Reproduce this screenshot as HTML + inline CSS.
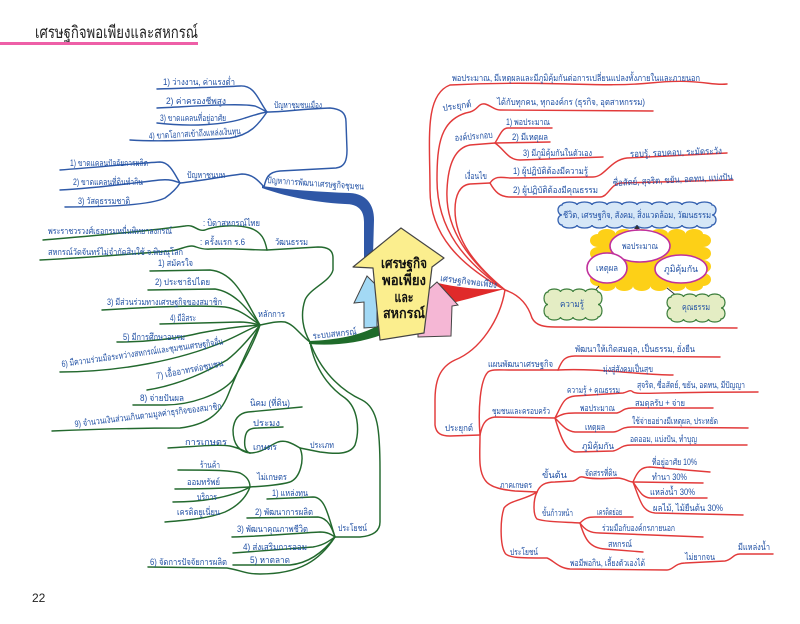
<!DOCTYPE html>
<html><head><meta charset="utf-8">
<style>
html,body{margin:0;padding:0;background:#fff;}
svg{display:block;}
.t{font-family:"Liberation Sans","DejaVu Sans",sans-serif;font-size:9px;fill:#1f4fa3;}
.b{fill:none;stroke:#2f5aa8;stroke-width:1.45;stroke-linecap:round;}
.g{fill:none;stroke:#23692e;stroke-width:1.45;stroke-linecap:round;}
.r{fill:none;stroke:#e23a3a;stroke-width:1.45;stroke-linecap:round;}
.c{font-family:"Liberation Sans","DejaVu Sans",sans-serif;font-size:14px;font-weight:bold;fill:#111;}
</style></head><body>
<svg width="800" height="624" viewBox="0 0 800 624" xmlns="http://www.w3.org/2000/svg">
<rect width="800" height="624" fill="#fff"/>
<!-- title -->
<text x="35" y="38" textLength="163" lengthAdjust="spacingAndGlyphs" style="font-family:'Liberation Sans','DejaVu Sans',sans-serif;font-size:17px;fill:#222">เศรษฐกิจพอเพียงและสหกรณ์</text>
<line x1="0" y1="43.5" x2="198" y2="43.5" stroke="#ee5fa7" stroke-width="3"/>
<text x="32" y="602" style="font-family:'Liberation Sans',sans-serif;font-size:12px;fill:#222">22</text>

<!-- ============ BLUE BRANCH ============ -->
<path d="M262,186 C290,190 320,192 350,193 C366,194 374,204 374,220 L373,256 L364,262 L364,222 C364,210 358,204 345,204 C310,202 285,196 262,188 Z" fill="#2f57a6"/>
<path class="b" d="M264,187 C266,178 268,172 280,171 L336,168 C345,167 347,160 347,150 L346,122 C346,112 340,109 330,108 C300,109 285,112 267,112"/>
<path class="b" d="M157,89 C190,88 220,87 240,86 C255,85 258,100 267,112"/>
<path class="b" d="M157,108 C200,106 240,103 255,106 C260,108 263,110 267,112"/>
<path class="b" d="M157,123 C190,127 225,125 245,118 C255,115 260,113 267,112"/>
<path class="b" d="M130,140 C160,142 200,140 230,138 C250,135 258,125 267,112"/>
<path class="b" d="M264,187 C258,180 252,174 242,174 C225,176 200,181 180,183"/>
<path class="b" d="M60,170 C100,167 140,163 160,162 C170,162 175,175 180,183"/>
<path class="b" d="M60,190 C100,188 140,182 160,180 C170,179 175,181 180,183"/>
<path class="b" d="M65,207 C110,207 150,205 165,198 C172,193 177,188 180,183"/>

<text class="t" x="163" y="85" textLength="72" lengthAdjust="spacingAndGlyphs">1) ว่างงาน, ค่าแรงต่ำ</text>
<text class="t" x="166" y="104" textLength="60" lengthAdjust="spacingAndGlyphs">2) ค่าครองชีพสูง</text>
<text class="t" x="160" y="121" textLength="66" lengthAdjust="spacingAndGlyphs">3) ขาดแคลนที่อยู่อาศัย</text>
<text class="t" x="149" y="139" textLength="92" lengthAdjust="spacingAndGlyphs" transform="rotate(-3 149 139)">4) ขาดโอกาสเข้าถึงแหล่งเงินทุน</text>
<text class="t" x="274" y="108" textLength="48" lengthAdjust="spacingAndGlyphs">ปัญหาชุมชนเมือง</text>
<text class="t" x="187" y="178" textLength="38" lengthAdjust="spacingAndGlyphs">ปัญหาชนบท</text>
<text class="t" x="70" y="166" textLength="78" lengthAdjust="spacingAndGlyphs">1) ขาดแคลนปัจจัยการผลิต</text>
<text class="t" x="73" y="185" textLength="70" lengthAdjust="spacingAndGlyphs">2) ขาดแคลนที่ดินทำกิน</text>
<text class="t" x="78" y="204" textLength="52" lengthAdjust="spacingAndGlyphs">3) วัสดุธรรมชาติ</text>
<text class="t" x="267" y="183" textLength="97" lengthAdjust="spacingAndGlyphs" transform="rotate(4 267 183)">ปัญหาการพัฒนาเศรษฐกิจชุมชน</text>

<!-- ============ GREEN BRANCH ============ -->
<path d="M309,341 C335,340 360,336 379,325 L384,334 C360,343 335,346 309,344 Z" fill="#1f6b2a"/>
<path class="g" d="M310,342 C303,330 300,315 305,300 C310,288 330,282 333,270 L333,258 C333,250 328,247 318,247 L267,250"/>
<path class="g" d="M267,250 C265,240 262,232 250,228 C235,224 215,226 205,230 C197,232 195,224 185,226 C140,232 90,236 43,240"/>
<path class="g" d="M267,250 C250,250 230,248 210,249 C200,250 196,246 192,246 C185,246 180,250 170,251 C120,255 80,258 40,260"/>
<path class="g" d="M310,342 C300,335 295,325 285,322 C278,321 270,323 260,325"/>
<path class="g" d="M150,271 L210,270 C235,272 245,300 260,325"/>
<path class="g" d="M148,290 L215,289 C235,292 248,310 260,325"/>
<path class="g" d="M102,310 C150,307 200,305 225,307 C240,309 250,318 260,325"/>
<path class="g" d="M160,324 L240,322 C250,322 255,324 260,325"/>
<path class="g" d="M117,342 C150,342 180,338 200,333 C225,328 245,326 260,325"/>
<path class="g" d="M60,372 C120,372 180,360 223,342 C240,335 250,328 260,325"/>
<path class="g" d="M147,390 C180,385 210,370 227,360 C240,350 252,335 260,325"/>
<path class="g" d="M133,405 L165,405 C190,405 220,395 233,380 C245,360 255,340 260,325"/>
<path class="g" d="M52,431 C100,429 150,428 180,428 C205,425 220,415 228,395 C238,370 252,340 260,325"/>
<path class="g" d="M310,342 C315,370 330,388 345,398 C358,408 360,430 355,445 C350,455 335,454 320,452 L300,448"/>
<path class="g" d="M300,448 C290,442 285,440 278,442 C270,445 262,453 250,453"/>
<path class="g" d="M168,448 C190,447 215,444 230,446 C240,448 245,452 250,453"/>
<path class="g" d="M250,453 C240,452 233,445 233,430 C234,418 240,413 248,412 L302,407"/>
<path class="g" d="M250,453 C245,452 244,445 245,438 C246,430 250,428 258,428 L283,427"/>
<path class="g" d="M300,448 C305,460 300,478 290,482 C280,485 265,486 250,487"/>
<path class="g" d="M178,470 C205,470 230,470 240,473 C248,477 250,482 250,487"/>
<path class="g" d="M175,489 C200,489 230,488 250,487"/>
<path class="g" d="M173,502 C200,502 230,498 250,487"/>
<path class="g" d="M165,522 C190,520 210,518 225,512 C240,505 247,495 250,487"/>
<path class="g" d="M310,342 C320,370 340,390 362,400 C378,408 380,430 380,470 L380,522 C380,532 372,536 360,537 L335,537"/>
<path class="g" d="M267,499 L313,497 C325,497 328,515 335,537"/>
<path class="g" d="M247,518 L318,517 C328,518 332,528 335,537"/>
<path class="g" d="M232,537 C270,536 300,533 320,532 C328,532 332,535 335,537"/>
<path class="g" d="M233,553 L313,547 C325,545 330,540 335,537"/>
<path class="g" d="M233,565 L290,565 C310,563 325,550 335,537"/>
<path class="g" d="M148,567 L227,568 C240,570 245,574 260,574 C300,574 320,560 335,537"/>

<text class="t" x="48" y="234" textLength="124" lengthAdjust="spacingAndGlyphs">พระราชวรวงศ์เธอกรมหมื่นพิทยาลงกรณ์</text>
<text class="t" x="203" y="226" textLength="57" lengthAdjust="spacingAndGlyphs">: บิดาสหกรณ์ไทย</text>
<text class="t" x="48" y="255" textLength="135" lengthAdjust="spacingAndGlyphs">สหกรณ์วัดจันทร์ไม่จำกัดสินใช้ จ.พิษณุโลก</text>
<text class="t" x="200" y="245" textLength="45" lengthAdjust="spacingAndGlyphs">: ครั้งแรก ร.6</text>
<text class="t" x="275" y="245" textLength="33" lengthAdjust="spacingAndGlyphs">วัฒนธรรม</text>
<text class="t" x="258" y="317" textLength="27" lengthAdjust="spacingAndGlyphs">หลักการ</text>
<text class="t" x="313" y="339" textLength="44" lengthAdjust="spacingAndGlyphs" transform="rotate(-6 313 339)">ระบบสหกรณ์</text>
<text class="t" x="158" y="266" textLength="35" lengthAdjust="spacingAndGlyphs">1) สมัครใจ</text>
<text class="t" x="155" y="285" textLength="55" lengthAdjust="spacingAndGlyphs">2) ประชาธิปไตย</text>
<text class="t" x="107" y="305" textLength="115" lengthAdjust="spacingAndGlyphs">3) มีส่วนร่วมทางเศรษฐกิจของสมาชิก</text>
<text class="t" x="170" y="321" textLength="26" lengthAdjust="spacingAndGlyphs">4) มีอิสระ</text>
<text class="t" x="123" y="340" textLength="62" lengthAdjust="spacingAndGlyphs">5) มีการศึกษาอบรม</text>
<text class="t" x="62" y="367" textLength="163" lengthAdjust="spacingAndGlyphs" transform="rotate(-8 62 367)">6) มีความร่วมมือระหว่างสหกรณ์และชุมชนเศรษฐกิจอื่น</text>
<text class="t" x="157" y="379" textLength="68" lengthAdjust="spacingAndGlyphs" transform="rotate(-11 157 379)">7) เอื้ออาทรต่อชุมชน</text>
<text class="t" x="140" y="401" textLength="44" lengthAdjust="spacingAndGlyphs">8) จ่ายปันผล</text>
<text class="t" x="75" y="427" textLength="148" lengthAdjust="spacingAndGlyphs" transform="rotate(-7 75 427)">9) จำนวนเงินส่วนเกินตามมูลค่าธุรกิจของสมาชิก</text>
<text class="t" x="250" y="406" textLength="40" lengthAdjust="spacingAndGlyphs">นิคม (ที่ดิน)</text>
<text class="t" x="253" y="426" textLength="27" lengthAdjust="spacingAndGlyphs">ประมง</text>
<text class="t" x="253" y="450" textLength="24" lengthAdjust="spacingAndGlyphs">เกษตร</text>
<text class="t" x="185" y="445" textLength="42" lengthAdjust="spacingAndGlyphs">การเกษตร</text>
<text class="t" x="310" y="448" textLength="24" lengthAdjust="spacingAndGlyphs">ประเภท</text>
<text class="t" x="257" y="480" textLength="30" lengthAdjust="spacingAndGlyphs">ไม่เกษตร</text>
<text class="t" x="200" y="468" textLength="20" lengthAdjust="spacingAndGlyphs">ร้านค้า</text>
<text class="t" x="187" y="485" textLength="33" lengthAdjust="spacingAndGlyphs">ออมทรัพย์</text>
<text class="t" x="197" y="500" textLength="20" lengthAdjust="spacingAndGlyphs">บริการ</text>
<text class="t" x="177" y="515" textLength="43" lengthAdjust="spacingAndGlyphs">เครดิตยูเนี่ยน</text>
<text class="t" x="338" y="531" textLength="29" lengthAdjust="spacingAndGlyphs">ประโยชน์</text>
<text class="t" x="272" y="496" textLength="36" lengthAdjust="spacingAndGlyphs">1) แหล่งทุน</text>
<text class="t" x="255" y="515" textLength="58" lengthAdjust="spacingAndGlyphs">2) พัฒนาการผลิต</text>
<text class="t" x="237" y="532" textLength="71" lengthAdjust="spacingAndGlyphs">3) พัฒนาคุณภาพชีวิต</text>
<text class="t" x="243" y="550" textLength="64" lengthAdjust="spacingAndGlyphs">4) ส่งเสริมการออม</text>
<text class="t" x="250" y="563" textLength="40" lengthAdjust="spacingAndGlyphs">5) หาตลาด</text>
<text class="t" x="150" y="565" textLength="77" lengthAdjust="spacingAndGlyphs">6) จัดการปัจจัยการผลิต</text>

<!-- ============ RED BRANCH ============ -->
<path d="M438,283 C460,288 480,290 505,289 C485,294 465,300 448,304 L440,300 Z" fill="#e02a2a"/>
<path class="r" d="M505,290 C460,265 430,235 430,190 C430,140 424,95 450,85 C550,80 600,88 650,83 S710,86 727,84"/>
<path class="r" d="M505,290 C465,262 437,230 437,180 C437,145 440,118 470,112 C478,110 478,103 485,104 C492,106 494,110 500,110 L653,111"/>
<path class="r" d="M505,290 C470,262 445,230 447,190 C448,165 455,148 470,145 L495,143"/>
<path class="r" d="M495,143 C500,135 502,128 508,128 L552,128"/>
<path class="r" d="M495,143 L550,142"/>
<path class="r" d="M495,143 C505,150 508,160 520,160 L603,157"/>
<path class="r" d="M505,290 C475,265 455,240 455,210 C455,195 460,185 470,184 L490,183"/>
<path class="r" d="M490,183 C495,176 500,177 510,178 L593,177 C605,177 610,160 627,158 L727,153"/>
<path class="r" d="M490,183 C495,192 500,197 510,197 L600,197 C608,197 610,185 620,183 L733,180"/>
<path class="r" d="M505,290 C520,295 528,305 532,318 C536,326 545,327 555,327 L737,328"/>
<path class="r" d="M505,290 C500,320 480,350 455,360 C440,367 435,380 435,400 L435,425 C436,434 442,436 450,436 L480,435"/>
<path class="r" d="M480,435 C478,410 480,380 488,372 C492,369 500,370 510,370 L558,370"/>
<path class="r" d="M558,370 C562,360 565,356 575,356 L720,357"/>
<path class="r" d="M558,370 C600,368 640,375 673,375"/>
<path class="r" d="M480,435 C482,425 485,418 495,417 L555,418"/>
<path class="r" d="M555,418 C562,405 563,397 575,396 L623,393 C628,392 630,389 633,392 C638,395 650,392 758,392"/>
<path class="r" d="M555,418 C562,414 565,413 575,413 L617,413 C622,412 623,408 632,408 L713,408"/>
<path class="r" d="M555,418 C562,425 566,431 575,432 L613,432 C620,432 620,427 632,427 L748,428"/>
<path class="r" d="M555,418 C560,435 565,450 575,452 L613,451 C620,450 620,445 632,445 L747,445"/>
<path class="r" d="M480,435 C480,455 478,470 485,480 C490,488 505,490 515,491 L537,492"/>
<path class="r" d="M537,492 C540,485 545,482 555,482 L573,481 C578,480 578,476 583,477 C590,479 600,479 617,478 C625,478 628,482 633,482"/>
<path class="r" d="M633,482 C638,470 642,467 650,467 L710,472"/>
<path class="r" d="M633,482 L703,483"/>
<path class="r" d="M633,482 C640,492 642,497 650,498 L707,498"/>
<path class="r" d="M633,482 C640,500 642,512 655,513 L743,515"/>
<path class="r" d="M537,492 C533,500 533,515 537,519 C545,522 565,522 580,523"/>
<path class="r" d="M580,523 C585,518 588,517 595,517 L633,517"/>
<path class="r" d="M580,523 C585,530 590,533 600,533 L703,537"/>
<path class="r" d="M580,523 C585,540 590,548 605,549 L643,552"/>
<path class="r" d="M537,492 C525,500 510,500 504,508 C500,520 500,545 505,553 C508,558 520,558 547,558 C553,560 558,568 570,569 L667,570 C673,570 675,563 685,563 L725,561 C732,560 733,554 740,554 L773,554"/>

<text class="t" x="452" y="81" textLength="248" lengthAdjust="spacingAndGlyphs">พอประมาณ, มีเหตุผลและมีภูมิคุ้มกันต่อการเปลี่ยนแปลงทั้งภายในและภายนอก</text>
<text class="t" x="443" y="111" textLength="29" lengthAdjust="spacingAndGlyphs" transform="rotate(-8 443 111)">ประยุกต์</text>
<text class="t" x="497" y="105" textLength="148" lengthAdjust="spacingAndGlyphs">ได้กับทุกคน, ทุกองค์กร (ธุรกิจ, อุตสาหกรรม)</text>
<text class="t" x="455" y="141" textLength="38" lengthAdjust="spacingAndGlyphs" transform="rotate(-5 455 141)">องค์ประกอบ</text>
<text class="t" x="506" y="125" textLength="44" lengthAdjust="spacingAndGlyphs">1) พอประมาณ</text>
<text class="t" x="512" y="140" textLength="36" lengthAdjust="spacingAndGlyphs">2) มีเหตุผล</text>
<text class="t" x="523" y="156" textLength="69" lengthAdjust="spacingAndGlyphs">3) มีภูมิคุ้มกันในตัวเอง</text>
<text class="t" x="465" y="179" textLength="22" lengthAdjust="spacingAndGlyphs">เงื่อนไข</text>
<text class="t" x="513" y="174" textLength="75" lengthAdjust="spacingAndGlyphs">1) ผู้ปฏิบัติต้องมีความรู้</text>
<text class="t" x="630" y="157" textLength="92" lengthAdjust="spacingAndGlyphs" transform="rotate(-2 630 157)">รอบรู้, รอบคอบ, ระมัดระวัง</text>
<text class="t" x="513" y="193" textLength="85" lengthAdjust="spacingAndGlyphs">2) ผู้ปฏิบัติต้องมีคุณธรรม</text>
<text class="t" x="613" y="186" textLength="120" lengthAdjust="spacingAndGlyphs" transform="rotate(-3 613 186)">ซื่อสัตย์, สุจริต, ขยัน, อดทน, แบ่งปัน</text>
<text class="t" x="440" y="281" textLength="57" lengthAdjust="spacingAndGlyphs" transform="rotate(7 440 281)">เศรษฐกิจพอเพียง</text>
<text class="t" x="488" y="367" textLength="65" lengthAdjust="spacingAndGlyphs">แผนพัฒนาเศรษฐกิจ</text>
<text class="t" x="575" y="352" textLength="120" lengthAdjust="spacingAndGlyphs">พัฒนาให้เกิดสมดุล, เป็นธรรม, ยั่งยืน</text>
<text class="t" x="603" y="372" textLength="50" lengthAdjust="spacingAndGlyphs">มุ่งสู่สังคมเป็นสุข</text>
<text class="t" x="492" y="414" textLength="58" lengthAdjust="spacingAndGlyphs">ชุมชนและครอบครัว</text>
<text class="t" x="445" y="431" textLength="28" lengthAdjust="spacingAndGlyphs">ประยุกต์</text>
<text class="t" x="567" y="393" textLength="53" lengthAdjust="spacingAndGlyphs">ความรู้ + คุณธรรม</text>
<text class="t" x="637" y="388" textLength="108" lengthAdjust="spacingAndGlyphs">สุจริต, ซื่อสัตย์, ขยัน, อดทน, มีปัญญา</text>
<text class="t" x="580" y="411" textLength="35" lengthAdjust="spacingAndGlyphs">พอประมาณ</text>
<text class="t" x="635" y="406" textLength="50" lengthAdjust="spacingAndGlyphs">สมดุลรับ + จ่าย</text>
<text class="t" x="585" y="430" textLength="20" lengthAdjust="spacingAndGlyphs">เหตุผล</text>
<text class="t" x="632" y="424" textLength="86" lengthAdjust="spacingAndGlyphs">ใช้จ่ายอย่างมีเหตุผล, ประหยัด</text>
<text class="t" x="582" y="449" textLength="32" lengthAdjust="spacingAndGlyphs">ภูมิคุ้มกัน</text>
<text class="t" x="630" y="442" textLength="67" lengthAdjust="spacingAndGlyphs">อดออม, แบ่งปัน, ทำบุญ</text>
<text class="t" x="500" y="488" textLength="32" lengthAdjust="spacingAndGlyphs">ภาคเกษตร</text>
<text class="t" x="542" y="478" textLength="25" lengthAdjust="spacingAndGlyphs">ขั้นต้น</text>
<text class="t" x="585" y="476" textLength="32" lengthAdjust="spacingAndGlyphs">จัดสรรที่ดิน</text>
<text class="t" x="652" y="465" textLength="45" lengthAdjust="spacingAndGlyphs">ที่อยู่อาศัย 10%</text>
<text class="t" x="652" y="480" textLength="35" lengthAdjust="spacingAndGlyphs">ทำนา 30%</text>
<text class="t" x="650" y="495" textLength="45" lengthAdjust="spacingAndGlyphs">แหล่งน้ำ 30%</text>
<text class="t" x="653" y="511" textLength="70" lengthAdjust="spacingAndGlyphs">ผลไม้, ไม้ยืนต้น 30%</text>
<text class="t" x="542" y="516" textLength="31" lengthAdjust="spacingAndGlyphs">ขั้นก้าวหน้า</text>
<text class="t" x="597" y="515" textLength="25" lengthAdjust="spacingAndGlyphs">เครดิตย่อย</text>
<text class="t" x="602" y="531" textLength="73" lengthAdjust="spacingAndGlyphs">ร่วมมือกับองค์กรภายนอก</text>
<text class="t" x="608" y="547" textLength="24" lengthAdjust="spacingAndGlyphs">สหกรณ์</text>
<text class="t" x="510" y="555" textLength="28" lengthAdjust="spacingAndGlyphs">ประโยชน์</text>
<text class="t" x="570" y="566" textLength="75" lengthAdjust="spacingAndGlyphs">พอมีพอกิน, เลี้ยงตัวเองได้</text>
<text class="t" x="685" y="560" textLength="30" lengthAdjust="spacingAndGlyphs">ไม่ยากจน</text>
<text class="t" x="738" y="550" textLength="32" lengthAdjust="spacingAndGlyphs">มีแหล่งน้ำ</text>

<!-- clouds diagram -->
<path d="M562,205 a7.5,3 0 0 1 15,0 a7.5,3 0 0 1 15,0 a7.5,3 0 0 1 15,0 a7.5,3 0 0 1 15,0 a7.5,3 0 0 1 15,0 a7.5,3 0 0 1 15,0 a7.5,3 0 0 1 15,0 a7.5,3 0 0 1 15,0 a7.5,3 0 0 1 15,0 a7.5,3 0 0 1 15,0 a4,5 0 0 1 0,10 a4,5 0 0 1 0,10 a7.5,3 0 0 1 -15,0 a7.5,3 0 0 1 -15,0 a7.5,3 0 0 1 -15,0 a7.5,3 0 0 1 -15,0 a7.5,3 0 0 1 -15,0 a7.5,3 0 0 1 -15,0 a7.5,3 0 0 1 -15,0 a7.5,3 0 0 1 -15,0 a7.5,3 0 0 1 -15,0 a7.5,3 0 0 1 -15,0 a4,5 0 0 1 0,-10 a4,5 0 0 1 0,-10 Z" fill="#d6e7f7" stroke="#3360b0" stroke-width="1.3"/>
<text class="t" x="637" y="218" text-anchor="middle" textLength="148" lengthAdjust="spacingAndGlyphs">ชีวิต, เศรษฐกิจ, สังคม, สิ่งแวดล้อม, วัฒนธรรม</text>
<line x1="637" y1="233" x2="637" y2="228" stroke="#333" stroke-width="1"/>
<path d="M634,229 L637,225 L640,229 Z" fill="#333"/>
<path d="M598,234 a8.75,5 0 0 1 17.5,0 a8.75,5 0 0 1 17.5,0 a8.75,5 0 0 1 17.5,0 a8.75,5 0 0 1 17.5,0 a8.75,5 0 0 1 17.5,0 a8.75,5 0 0 1 17.5,0 a8,6.5 0 0 1 0,13 a8,6.5 0 0 1 0,13 a8,6.5 0 0 1 0,13 a8,6.5 0 0 1 0,13 a8.75,5 0 0 1 -17.5,0 a8.75,5 0 0 1 -17.5,0 a8.75,5 0 0 1 -17.5,0 a8.75,5 0 0 1 -17.5,0 a8.75,5 0 0 1 -17.5,0 a8.75,5 0 0 1 -17.5,0 a8,6.5 0 0 1 0,-13 a8,6.5 0 0 1 0,-13 a8,6.5 0 0 1 0,-13 a8,6.5 0 0 1 0,-13 Z" fill="#fdd017"/>
<ellipse cx="640" cy="246" rx="30" ry="16" fill="#fff" stroke="#c0309c" stroke-width="1.6"/>
<ellipse cx="607" cy="268" rx="20" ry="15" fill="#fff" stroke="#c0309c" stroke-width="1.6"/>
<ellipse cx="681" cy="269" rx="26" ry="14" fill="#fff" stroke="#c0309c" stroke-width="1.6"/>
<text class="t" x="640" y="249" text-anchor="middle" textLength="36" lengthAdjust="spacingAndGlyphs">พอประมาณ</text>
<text class="t" x="607" y="271" text-anchor="middle" textLength="22" lengthAdjust="spacingAndGlyphs">เหตุผล</text>
<text class="t" x="681" y="272" text-anchor="middle" textLength="34" lengthAdjust="spacingAndGlyphs">ภูมิคุ้มกัน</text>
<line x1="599" y1="286" x2="591" y2="295" stroke="#333" stroke-width="1"/>
<line x1="667" y1="288" x2="678" y2="297" stroke="#333" stroke-width="1"/>
<path d="M548,292 a6.25,3 0 0 1 12.5,0 a6.25,3 0 0 1 12.5,0 a6.25,3 0 0 1 12.5,0 a6.25,3 0 0 1 12.5,0 a4,6.25 0 0 1 0,12.5 a4,6.25 0 0 1 0,12.5 a6.25,3 0 0 1 -12.5,0 a6.25,3 0 0 1 -12.5,0 a6.25,3 0 0 1 -12.5,0 a6.25,3 0 0 1 -12.5,0 a4,6.25 0 0 1 0,-12.5 a4,6.25 0 0 1 0,-12.5 Z" fill="#e4edc4" stroke="#3a7d3a" stroke-width="1.2"/>
<path d="M671,297 a6.25,3 0 0 1 12.5,0 a6.25,3 0 0 1 12.5,0 a6.25,3 0 0 1 12.5,0 a6.25,3 0 0 1 12.5,0 a4,5.5 0 0 1 0,11 a4,5.5 0 0 1 0,11 a6.25,3 0 0 1 -12.5,0 a6.25,3 0 0 1 -12.5,0 a6.25,3 0 0 1 -12.5,0 a6.25,3 0 0 1 -12.5,0 a4,5.5 0 0 1 0,-11 a4,5.5 0 0 1 0,-11 Z" fill="#e4edc4" stroke="#3a7d3a" stroke-width="1.2"/>
<text class="t" x="572" y="307" text-anchor="middle" textLength="24" lengthAdjust="spacingAndGlyphs">ความรู้</text>
<text class="t" x="696" y="310" text-anchor="middle" textLength="28" lengthAdjust="spacingAndGlyphs">คุณธรรม</text>

<!-- center house arrows -->
<polygon points="437,282 458,305 452,306 451,336 418,337 418,300 428,290" fill="#f5b7d5" stroke="#444" stroke-width="1"/>
<polygon points="367,276 381,290 377,291 377,327 364,328 364,302 354,303" fill="#a3d9f5" stroke="#444" stroke-width="1"/>
<polygon points="401,228 444,258 432,267 424,333 380,340 373,268 353,267" fill="#fbee8e" stroke="#444" stroke-width="1.2" stroke-linejoin="round"/>
<text class="c" x="404" y="268" text-anchor="middle" textLength="46" lengthAdjust="spacingAndGlyphs">เศรษฐกิจ</text>
<text class="c" x="404" y="285" text-anchor="middle" textLength="44" lengthAdjust="spacingAndGlyphs">พอเพียง</text>
<text class="c" x="404" y="302" text-anchor="middle" textLength="19" lengthAdjust="spacingAndGlyphs">และ</text>
<text class="c" x="404" y="318" text-anchor="middle" textLength="42" lengthAdjust="spacingAndGlyphs">สหกรณ์</text>
</svg>
</body></html>
